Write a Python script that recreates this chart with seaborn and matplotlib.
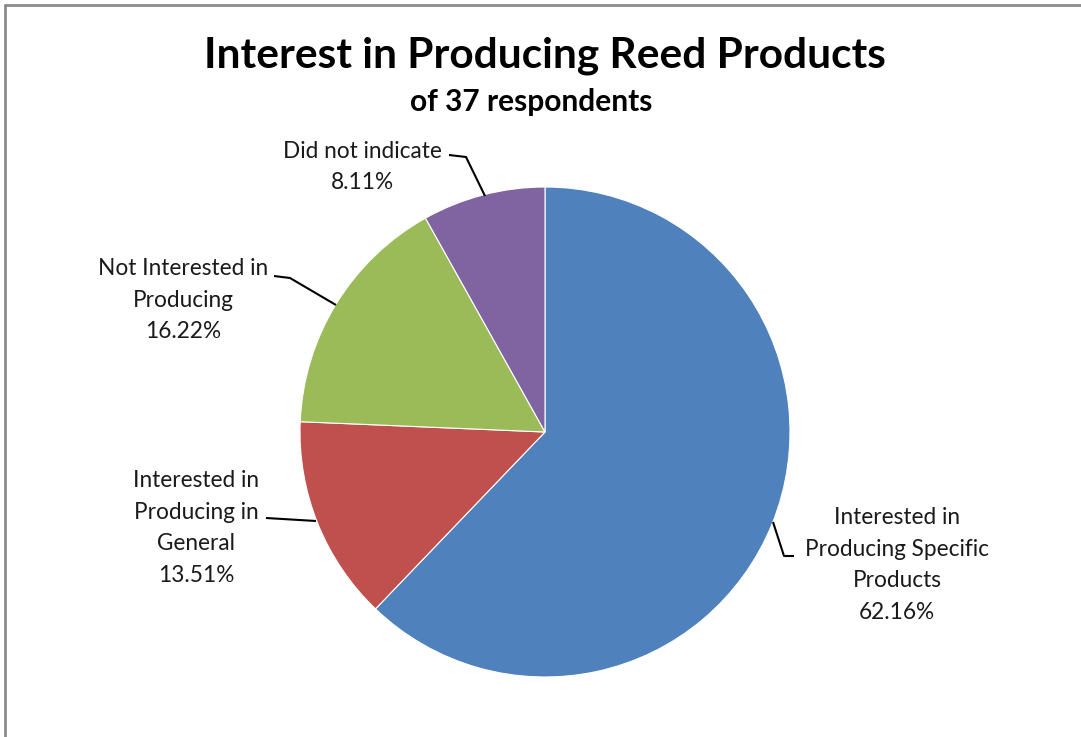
import matplotlib
matplotlib.use("Agg")
import matplotlib.pyplot as plt
from matplotlib.lines import Line2D
import seaborn as sns

sns.set_theme(style="white")
plt.rcParams["font.family"] = ["Lato", "DejaVu Sans"]

# Survey answers (share of 37 respondents), clockwise from 12 o'clock
categories = [
    "Interested in\nProducing Specific\nProducts",
    "Interested in\nProducing in\nGeneral",
    "Not Interested in\nProducing",
    "Did not indicate",
]
percentages = [62.16, 13.51, 16.22, 8.11]
colors = ["#4F81BD", "#C0504D", "#9BBB59", "#8064A2"]

W, H = 1081, 737
fig = plt.figure(figsize=(W / 100, H / 100), dpi=100)
ax = fig.add_axes([0, 0, 1, 1])

cx, cy, r = 545, H - 432, 245
ax.pie(percentages, colors=colors, startangle=90, counterclock=False,
       center=(cx, cy), radius=r,
       wedgeprops=dict(edgecolor="white", linewidth=0.8))
ax.set_xlim(0, W)
ax.set_ylim(0, H)
ax.set_aspect("equal")
ax.axis("off")

def px(x, y):
    return x, H - y

# Titles
ax.text(*px(545, 56), "Interest in Producing Reed Products", ha="center", va="center",
        fontsize=30.5, fontweight="bold", color="black")
ax.text(*px(531, 102), "of 37 respondents", ha="center", va="center",
        fontsize=21.5, fontweight="bold", color="black")

lab_kw = dict(ha="center", va="center", fontsize=16.3, color="#1a1a1a", linespacing=1.62)

# Label text positions and leader lines (pixel coordinates)
label_pos = [(897, 565), (196, 528), (183, 300), (362, 167)]
leaders = [
    [(773, 522), (784, 556), (794, 556)],
    [(266, 518), (316, 521)],
    [(274, 276), (290, 278), (336, 305)],
    [(449, 155), (466, 157), (485, 196)],
]

for name, pct, pos, pts in zip(categories, percentages, label_pos, leaders):
    ax.text(*px(*pos), f"{name}\n{pct:.2f}%", **lab_kw)
    xs = [p[0] for p in pts]
    ys = [H - p[1] for p in pts]
    ax.plot(xs, ys, color="black", linewidth=1.5, solid_capstyle="butt")

# Frame lines along the top and left edges
fig.add_artist(Line2D([5 / W, 1], [1 - 5 / H, 1 - 5 / H], color="#8c8c8c", linewidth=2,
                      transform=fig.transFigure))
fig.add_artist(Line2D([5 / W, 5 / W], [0, 1 - 5 / H], color="#8c8c8c", linewidth=2,
                      transform=fig.transFigure))

fig.savefig("out.png", dpi=100, facecolor="white")
